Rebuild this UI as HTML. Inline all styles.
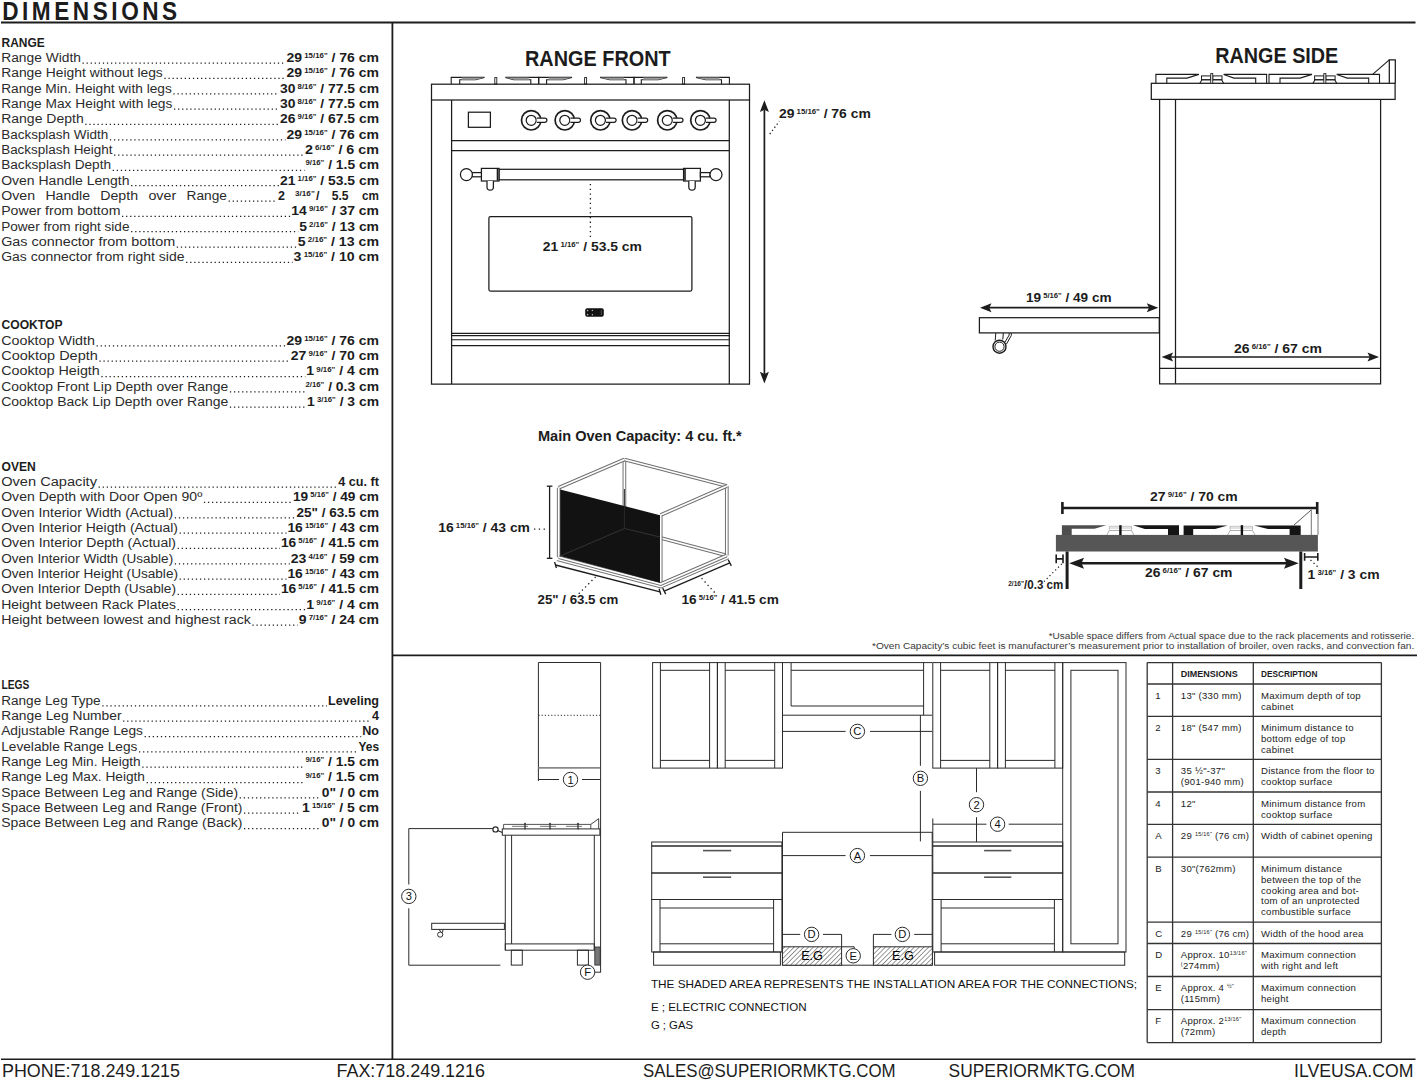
<!DOCTYPE html>
<html><head><meta charset="utf-8"><style>
html,body{margin:0;padding:0;background:#fff;}
body{width:1417px;height:1080px;overflow:hidden;}
svg{display:block;font-family:"Liberation Sans",sans-serif;}
</style></head><body>
<svg width="1417" height="1080" viewBox="0 0 1417 1080">
<rect width="1417" height="1080" fill="#fff"/>
<g fill="#1c1c1c">
<text x="1.5" y="46.7" font-size="12.5" font-weight="bold" textLength="43.2" lengthAdjust="spacingAndGlyphs">RANGE</text>
<text x="1.2" y="62.0" font-size="12.5" textLength="79.7" lengthAdjust="spacingAndGlyphs" fill="#2b2b2b">Range Width</text>
<line x1="82.5" y1="63.1" x2="285.5" y2="63.1" stroke="#1c1c1c" stroke-width="1.25" stroke-dasharray="1.25 2.82"/>
<text x="379" y="62.0" font-size="12.5" font-weight="bold" text-anchor="end" textLength="92.5" lengthAdjust="spacingAndGlyphs">29<tspan font-size="7" dy="-3.9"> 15/16"</tspan><tspan dy="3.9"> / 76 cm</tspan></text>
<text x="1.2" y="77.33" font-size="12.5" textLength="161.6" lengthAdjust="spacingAndGlyphs" fill="#2b2b2b">Range Height without legs</text>
<line x1="164.4" y1="78.4" x2="285.5" y2="78.4" stroke="#1c1c1c" stroke-width="1.25" stroke-dasharray="1.25 2.82"/>
<text x="379" y="77.33" font-size="12.5" font-weight="bold" text-anchor="end" textLength="92.5" lengthAdjust="spacingAndGlyphs">29<tspan font-size="7" dy="-3.9"> 15/16"</tspan><tspan dy="3.9"> / 76 cm</tspan></text>
<text x="1.2" y="92.66" font-size="12.5" textLength="170.6" lengthAdjust="spacingAndGlyphs" fill="#2b2b2b">Range Min. Height with legs</text>
<line x1="173.4" y1="93.8" x2="279.0" y2="93.8" stroke="#1c1c1c" stroke-width="1.25" stroke-dasharray="1.25 2.82"/>
<text x="379" y="92.66" font-size="12.5" font-weight="bold" text-anchor="end" textLength="99" lengthAdjust="spacingAndGlyphs">30<tspan font-size="7" dy="-3.9"> 8/16"</tspan><tspan dy="3.9"> / 77.5 cm</tspan></text>
<text x="1.2" y="107.99000000000001" font-size="12.5" textLength="171.2" lengthAdjust="spacingAndGlyphs" fill="#2b2b2b">Range Max Height with legs</text>
<line x1="174.0" y1="109.1" x2="279.0" y2="109.1" stroke="#1c1c1c" stroke-width="1.25" stroke-dasharray="1.25 2.82"/>
<text x="379" y="107.99000000000001" font-size="12.5" font-weight="bold" text-anchor="end" textLength="99" lengthAdjust="spacingAndGlyphs">30<tspan font-size="7" dy="-3.9"> 8/16"</tspan><tspan dy="3.9"> / 77.5 cm</tspan></text>
<text x="1.2" y="123.32" font-size="12.5" textLength="82.5" lengthAdjust="spacingAndGlyphs" fill="#2b2b2b">Range Depth</text>
<line x1="85.3" y1="124.4" x2="279.0" y2="124.4" stroke="#1c1c1c" stroke-width="1.25" stroke-dasharray="1.25 2.82"/>
<text x="379" y="123.32" font-size="12.5" font-weight="bold" text-anchor="end" textLength="99" lengthAdjust="spacingAndGlyphs">26<tspan font-size="7" dy="-3.9"> 9/16"</tspan><tspan dy="3.9"> / 67.5 cm</tspan></text>
<text x="1.2" y="138.65" font-size="12.5" textLength="107.1" lengthAdjust="spacingAndGlyphs" fill="#2b2b2b">Backsplash Width</text>
<line x1="109.9" y1="139.8" x2="285.5" y2="139.8" stroke="#1c1c1c" stroke-width="1.25" stroke-dasharray="1.25 2.82"/>
<text x="379" y="138.65" font-size="12.5" font-weight="bold" text-anchor="end" textLength="92.5" lengthAdjust="spacingAndGlyphs">29<tspan font-size="7" dy="-3.9"> 15/16"</tspan><tspan dy="3.9"> / 76 cm</tspan></text>
<text x="1.2" y="153.98000000000002" font-size="12.5" textLength="111.3" lengthAdjust="spacingAndGlyphs" fill="#2b2b2b">Backsplash Height</text>
<line x1="114.1" y1="155.1" x2="303.9" y2="155.1" stroke="#1c1c1c" stroke-width="1.25" stroke-dasharray="1.25 2.82"/>
<text x="379" y="153.98000000000002" font-size="12.5" font-weight="bold" text-anchor="end" textLength="74.1" lengthAdjust="spacingAndGlyphs">2<tspan font-size="7" dy="-3.9"> 6/16"</tspan><tspan dy="3.9"> / 6 cm</tspan></text>
<text x="1.2" y="169.31" font-size="12.5" textLength="109.9" lengthAdjust="spacingAndGlyphs" fill="#2b2b2b">Backsplash Depth</text>
<line x1="112.7" y1="170.4" x2="304.5" y2="170.4" stroke="#1c1c1c" stroke-width="1.25" stroke-dasharray="1.25 2.82"/>
<text x="379" y="169.31" font-size="12.5" font-weight="bold" text-anchor="end" textLength="73.5" lengthAdjust="spacingAndGlyphs"><tspan font-size="7" dy="-3.9">9/16"</tspan><tspan dy="3.9"> / 1.5 cm</tspan></text>
<text x="1.2" y="184.64" font-size="12.5" textLength="128.3" lengthAdjust="spacingAndGlyphs" fill="#2b2b2b">Oven Handle Length</text>
<line x1="131.1" y1="185.7" x2="279.0" y2="185.7" stroke="#1c1c1c" stroke-width="1.25" stroke-dasharray="1.25 2.82"/>
<text x="379" y="184.64" font-size="12.5" font-weight="bold" text-anchor="end" textLength="99" lengthAdjust="spacingAndGlyphs">21<tspan font-size="7" dy="-3.9"> 1/16"</tspan><tspan dy="3.9"> / 53.5 cm</tspan></text>
<text x="1.2999999999999998" y="199.97" font-size="12.5" textLength="33.8" lengthAdjust="spacingAndGlyphs" fill="#2b2b2b">Oven</text>
<text x="45.4" y="199.97" font-size="12.5" textLength="44.7" lengthAdjust="spacingAndGlyphs" fill="#2b2b2b">Handle</text>
<text x="100.2" y="199.97" font-size="12.5" textLength="37.9" lengthAdjust="spacingAndGlyphs" fill="#2b2b2b">Depth</text>
<text x="148.4" y="199.97" font-size="12.5" textLength="27.8" lengthAdjust="spacingAndGlyphs" fill="#2b2b2b">over</text>
<text x="186.6" y="199.97" font-size="12.5" textLength="40.4" lengthAdjust="spacingAndGlyphs" fill="#2b2b2b">Range</text>
<line x1="228.6" y1="201.1" x2="276.5" y2="201.1" stroke="#1c1c1c" stroke-width="1.25" stroke-dasharray="1.25 2.82"/>
<text x="278" y="199.97" font-size="12.5" font-weight="bold">2</text>
<text x="295" y="196.07" font-size="7" font-weight="bold" textLength="19.8" lengthAdjust="spacingAndGlyphs">3/16"</text>
<text x="316" y="199.97" font-size="12.5" font-weight="bold">/</text>
<text x="331.7" y="199.97" font-size="12.5" font-weight="bold" textLength="16.9" lengthAdjust="spacingAndGlyphs">5.5</text>
<text x="361.9" y="199.97" font-size="12.5" font-weight="bold" textLength="16.9" lengthAdjust="spacingAndGlyphs">cm</text>
<text x="1.2" y="215.3" font-size="12.5" textLength="119.2" lengthAdjust="spacingAndGlyphs" fill="#2b2b2b">Power from bottom</text>
<line x1="122.0" y1="216.4" x2="290.3" y2="216.4" stroke="#1c1c1c" stroke-width="1.25" stroke-dasharray="1.25 2.82"/>
<text x="379" y="215.3" font-size="12.5" font-weight="bold" text-anchor="end" textLength="87.7" lengthAdjust="spacingAndGlyphs">14<tspan font-size="7" dy="-3.9"> 9/16"</tspan><tspan dy="3.9"> / 37 cm</tspan></text>
<text x="1.2" y="230.63" font-size="12.5" textLength="128.3" lengthAdjust="spacingAndGlyphs" fill="#2b2b2b">Power from right side</text>
<line x1="131.1" y1="231.7" x2="298.2" y2="231.7" stroke="#1c1c1c" stroke-width="1.25" stroke-dasharray="1.25 2.82"/>
<text x="379" y="230.63" font-size="12.5" font-weight="bold" text-anchor="end" textLength="79.8" lengthAdjust="spacingAndGlyphs">5<tspan font-size="7" dy="-3.9"> 2/16"</tspan><tspan dy="3.9"> / 13 cm</tspan></text>
<text x="1.2" y="245.96" font-size="12.5" textLength="174.0" lengthAdjust="spacingAndGlyphs" fill="#2b2b2b">Gas connector from bottom</text>
<line x1="176.8" y1="247.1" x2="296.8" y2="247.1" stroke="#1c1c1c" stroke-width="1.25" stroke-dasharray="1.25 2.82"/>
<text x="379" y="245.96" font-size="12.5" font-weight="bold" text-anchor="end" textLength="81.2" lengthAdjust="spacingAndGlyphs">5<tspan font-size="7" dy="-3.9"> 2/16"</tspan><tspan dy="3.9"> / 13 cm</tspan></text>
<text x="1.2" y="261.28999999999996" font-size="12.5" textLength="183.3" lengthAdjust="spacingAndGlyphs" fill="#2b2b2b">Gas connector from right side</text>
<line x1="186.1" y1="262.4" x2="292.6" y2="262.4" stroke="#1c1c1c" stroke-width="1.25" stroke-dasharray="1.25 2.82"/>
<text x="379" y="261.28999999999996" font-size="12.5" font-weight="bold" text-anchor="end" textLength="85.4" lengthAdjust="spacingAndGlyphs">3<tspan font-size="7" dy="-3.9"> 15/16"</tspan><tspan dy="3.9"> / 10 cm</tspan></text>
<text x="1.5" y="329.4" font-size="12.5" font-weight="bold" textLength="61.0" lengthAdjust="spacingAndGlyphs">COOKTOP</text>
<text x="1.2" y="344.8" font-size="12.5" textLength="93.8" lengthAdjust="spacingAndGlyphs" fill="#2b2b2b">Cooktop Width</text>
<line x1="96.6" y1="345.9" x2="285.5" y2="345.9" stroke="#1c1c1c" stroke-width="1.25" stroke-dasharray="1.25 2.82"/>
<text x="379" y="344.8" font-size="12.5" font-weight="bold" text-anchor="end" textLength="92.5" lengthAdjust="spacingAndGlyphs">29<tspan font-size="7" dy="-3.9"> 15/16"</tspan><tspan dy="3.9"> / 76 cm</tspan></text>
<text x="1.2" y="360.13" font-size="12.5" textLength="96.6" lengthAdjust="spacingAndGlyphs" fill="#2b2b2b">Cooktop Depth</text>
<line x1="99.4" y1="361.2" x2="289.8" y2="361.2" stroke="#1c1c1c" stroke-width="1.25" stroke-dasharray="1.25 2.82"/>
<text x="379" y="360.13" font-size="12.5" font-weight="bold" text-anchor="end" textLength="88.2" lengthAdjust="spacingAndGlyphs">27<tspan font-size="7" dy="-3.9"> 9/16"</tspan><tspan dy="3.9"> / 70 cm</tspan></text>
<text x="1.2" y="375.46000000000004" font-size="12.5" textLength="98.6" lengthAdjust="spacingAndGlyphs" fill="#2b2b2b">Cooktop Heigth</text>
<line x1="101.4" y1="376.6" x2="305.3" y2="376.6" stroke="#1c1c1c" stroke-width="1.25" stroke-dasharray="1.25 2.82"/>
<text x="379" y="375.46000000000004" font-size="12.5" font-weight="bold" text-anchor="end" textLength="72.7" lengthAdjust="spacingAndGlyphs">1<tspan font-size="7" dy="-3.9"> 9/16"</tspan><tspan dy="3.9"> / 4 cm</tspan></text>
<text x="1.2" y="390.79" font-size="12.5" textLength="227.1" lengthAdjust="spacingAndGlyphs" fill="#2b2b2b">Cooktop Front Lip Depth over Range</text>
<line x1="229.9" y1="391.9" x2="304.5" y2="391.9" stroke="#1c1c1c" stroke-width="1.25" stroke-dasharray="1.25 2.82"/>
<text x="379" y="390.79" font-size="12.5" font-weight="bold" text-anchor="end" textLength="73.5" lengthAdjust="spacingAndGlyphs"><tspan font-size="7" dy="-3.9">2/16"</tspan><tspan dy="3.9"> / 0.3 cm</tspan></text>
<text x="1.2" y="406.12" font-size="12.5" textLength="227.1" lengthAdjust="spacingAndGlyphs" fill="#2b2b2b">Cooktop Back Lip Depth over Range</text>
<line x1="229.9" y1="407.2" x2="306.1" y2="407.2" stroke="#1c1c1c" stroke-width="1.25" stroke-dasharray="1.25 2.82"/>
<text x="379" y="406.12" font-size="12.5" font-weight="bold" text-anchor="end" textLength="71.9" lengthAdjust="spacingAndGlyphs">1<tspan font-size="7" dy="-3.9"> 3/16"</tspan><tspan dy="3.9"> / 3 cm</tspan></text>
<text x="1.5" y="470.6" font-size="12.5" font-weight="bold" textLength="34.3" lengthAdjust="spacingAndGlyphs">OVEN</text>
<text x="1.2" y="486.0" font-size="12.5" textLength="95.8" lengthAdjust="spacingAndGlyphs" fill="#2b2b2b">Oven Capacity</text>
<line x1="98.6" y1="487.1" x2="337.2" y2="487.1" stroke="#1c1c1c" stroke-width="1.25" stroke-dasharray="1.25 2.82"/>
<text x="379" y="486.0" font-size="12.5" font-weight="bold" text-anchor="end" textLength="40.8" lengthAdjust="spacingAndGlyphs">4 cu. ft</text>
<text x="1.2" y="501.33" font-size="12.5" textLength="201.1" lengthAdjust="spacingAndGlyphs" fill="#2b2b2b">Oven Depth with Door Open 90º</text>
<line x1="203.9" y1="502.4" x2="292.0" y2="502.4" stroke="#1c1c1c" stroke-width="1.25" stroke-dasharray="1.25 2.82"/>
<text x="379" y="501.33" font-size="12.5" font-weight="bold" text-anchor="end" textLength="86" lengthAdjust="spacingAndGlyphs">19<tspan font-size="7" dy="-3.9"> 5/16"</tspan><tspan dy="3.9"> / 49 cm</tspan></text>
<text x="1.2" y="516.66" font-size="12.5" textLength="172.0" lengthAdjust="spacingAndGlyphs" fill="#2b2b2b">Oven Interior Width (Actual)</text>
<line x1="174.8" y1="517.8" x2="295.4" y2="517.8" stroke="#1c1c1c" stroke-width="1.25" stroke-dasharray="1.25 2.82"/>
<text x="379" y="516.66" font-size="12.5" font-weight="bold" text-anchor="end" textLength="82.6" lengthAdjust="spacingAndGlyphs">25" / 63.5 cm</text>
<text x="1.2" y="531.99" font-size="12.5" textLength="176.8" lengthAdjust="spacingAndGlyphs" fill="#2b2b2b">Oven Interior Heigth (Actual)</text>
<line x1="179.6" y1="533.1" x2="286.4" y2="533.1" stroke="#1c1c1c" stroke-width="1.25" stroke-dasharray="1.25 2.82"/>
<text x="379" y="531.99" font-size="12.5" font-weight="bold" text-anchor="end" textLength="91.6" lengthAdjust="spacingAndGlyphs">16<tspan font-size="7" dy="-3.9"> 15/16"</tspan><tspan dy="3.9"> / 43 cm</tspan></text>
<text x="1.2" y="547.32" font-size="12.5" textLength="174.8" lengthAdjust="spacingAndGlyphs" fill="#2b2b2b">Oven Interior Depth (Actual)</text>
<line x1="177.6" y1="548.4" x2="279.9" y2="548.4" stroke="#1c1c1c" stroke-width="1.25" stroke-dasharray="1.25 2.82"/>
<text x="379" y="547.32" font-size="12.5" font-weight="bold" text-anchor="end" textLength="98.1" lengthAdjust="spacingAndGlyphs">16<tspan font-size="7" dy="-3.9"> 5/16"</tspan><tspan dy="3.9"> / 41.5 cm</tspan></text>
<text x="1.2" y="562.65" font-size="12.5" textLength="172.0" lengthAdjust="spacingAndGlyphs" fill="#2b2b2b">Oven Interior Width (Usable)</text>
<line x1="174.8" y1="563.8" x2="289.8" y2="563.8" stroke="#1c1c1c" stroke-width="1.25" stroke-dasharray="1.25 2.82"/>
<text x="379" y="562.65" font-size="12.5" font-weight="bold" text-anchor="end" textLength="88.2" lengthAdjust="spacingAndGlyphs">23<tspan font-size="7" dy="-3.9"> 4/16"</tspan><tspan dy="3.9"> / 59 cm</tspan></text>
<text x="1.2" y="577.98" font-size="12.5" textLength="176.8" lengthAdjust="spacingAndGlyphs" fill="#2b2b2b">Oven Interior Height (Usable)</text>
<line x1="179.6" y1="579.1" x2="286.4" y2="579.1" stroke="#1c1c1c" stroke-width="1.25" stroke-dasharray="1.25 2.82"/>
<text x="379" y="577.98" font-size="12.5" font-weight="bold" text-anchor="end" textLength="91.6" lengthAdjust="spacingAndGlyphs">16<tspan font-size="7" dy="-3.9"> 15/16"</tspan><tspan dy="3.9"> / 43 cm</tspan></text>
<text x="1.2" y="593.31" font-size="12.5" textLength="174.8" lengthAdjust="spacingAndGlyphs" fill="#2b2b2b">Oven Interior Depth (Usable)</text>
<line x1="177.6" y1="594.4" x2="279.9" y2="594.4" stroke="#1c1c1c" stroke-width="1.25" stroke-dasharray="1.25 2.82"/>
<text x="379" y="593.31" font-size="12.5" font-weight="bold" text-anchor="end" textLength="98.1" lengthAdjust="spacingAndGlyphs">16<tspan font-size="7" dy="-3.9"> 5/16"</tspan><tspan dy="3.9"> / 41.5 cm</tspan></text>
<text x="1.2" y="608.64" font-size="12.5" textLength="174.8" lengthAdjust="spacingAndGlyphs" fill="#2b2b2b">Height between Rack Plates</text>
<line x1="177.6" y1="609.7" x2="305.3" y2="609.7" stroke="#1c1c1c" stroke-width="1.25" stroke-dasharray="1.25 2.82"/>
<text x="379" y="608.64" font-size="12.5" font-weight="bold" text-anchor="end" textLength="72.7" lengthAdjust="spacingAndGlyphs">1<tspan font-size="7" dy="-3.9"> 9/16"</tspan><tspan dy="3.9"> / 4 cm</tspan></text>
<text x="1.2" y="623.97" font-size="12.5" textLength="249.6" lengthAdjust="spacingAndGlyphs" fill="#2b2b2b">Height between lowest and highest rack</text>
<line x1="252.4" y1="625.1" x2="297.7" y2="625.1" stroke="#1c1c1c" stroke-width="1.25" stroke-dasharray="1.25 2.82"/>
<text x="379" y="623.97" font-size="12.5" font-weight="bold" text-anchor="end" textLength="80.3" lengthAdjust="spacingAndGlyphs">9<tspan font-size="7" dy="-3.9"> 7/16"</tspan><tspan dy="3.9"> / 24 cm</tspan></text>
<text x="1.5" y="689.2" font-size="12.5" font-weight="bold" textLength="27.8" lengthAdjust="spacingAndGlyphs">LEGS</text>
<text x="1.2" y="704.8" font-size="12.5" textLength="99.5" lengthAdjust="spacingAndGlyphs" fill="#2b2b2b">Range Leg Type</text>
<line x1="102.3" y1="705.9" x2="327.0" y2="705.9" stroke="#1c1c1c" stroke-width="1.25" stroke-dasharray="1.25 2.82"/>
<text x="379" y="704.8" font-size="12.5" font-weight="bold" text-anchor="end" textLength="51" lengthAdjust="spacingAndGlyphs">Leveling</text>
<text x="1.2" y="720.13" font-size="12.5" textLength="120.3" lengthAdjust="spacingAndGlyphs" fill="#2b2b2b">Range Leg Number</text>
<line x1="123.1" y1="721.2" x2="371.0" y2="721.2" stroke="#1c1c1c" stroke-width="1.25" stroke-dasharray="1.25 2.82"/>
<text x="379" y="720.13" font-size="12.5" font-weight="bold" text-anchor="end" textLength="7" lengthAdjust="spacingAndGlyphs">4</text>
<text x="1.2" y="735.4599999999999" font-size="12.5" textLength="141.8" lengthAdjust="spacingAndGlyphs" fill="#2b2b2b">Adjustable Range Legs</text>
<line x1="144.6" y1="736.6" x2="361.2" y2="736.6" stroke="#1c1c1c" stroke-width="1.25" stroke-dasharray="1.25 2.82"/>
<text x="379" y="735.4599999999999" font-size="12.5" font-weight="bold" text-anchor="end" textLength="16.8" lengthAdjust="spacingAndGlyphs">No</text>
<text x="1.2" y="750.79" font-size="12.5" textLength="136.2" lengthAdjust="spacingAndGlyphs" fill="#2b2b2b">Levelable Range Legs</text>
<line x1="139.0" y1="751.9" x2="357.5" y2="751.9" stroke="#1c1c1c" stroke-width="1.25" stroke-dasharray="1.25 2.82"/>
<text x="379" y="750.79" font-size="12.5" font-weight="bold" text-anchor="end" textLength="20.5" lengthAdjust="spacingAndGlyphs">Yes</text>
<text x="1.2" y="766.12" font-size="12.5" textLength="139.5" lengthAdjust="spacingAndGlyphs" fill="#2b2b2b">Range Leg Min. Heigth</text>
<line x1="142.3" y1="767.2" x2="304.4" y2="767.2" stroke="#1c1c1c" stroke-width="1.25" stroke-dasharray="1.25 2.82"/>
<text x="379" y="766.12" font-size="12.5" font-weight="bold" text-anchor="end" textLength="73.6" lengthAdjust="spacingAndGlyphs"><tspan font-size="7" dy="-3.9">9/16"</tspan><tspan dy="3.9"> / 1.5 cm</tspan></text>
<text x="1.2" y="781.4499999999999" font-size="12.5" textLength="143.8" lengthAdjust="spacingAndGlyphs" fill="#2b2b2b">Range Leg Max. Heigth</text>
<line x1="146.6" y1="782.5" x2="304.4" y2="782.5" stroke="#1c1c1c" stroke-width="1.25" stroke-dasharray="1.25 2.82"/>
<text x="379" y="781.4499999999999" font-size="12.5" font-weight="bold" text-anchor="end" textLength="73.6" lengthAdjust="spacingAndGlyphs"><tspan font-size="7" dy="-3.9">9/16"</tspan><tspan dy="3.9"> / 1.5 cm</tspan></text>
<text x="1.2" y="796.78" font-size="12.5" textLength="236.9" lengthAdjust="spacingAndGlyphs" fill="#2b2b2b">Space Between Leg and Range (Side)</text>
<line x1="239.7" y1="797.9" x2="320.8" y2="797.9" stroke="#1c1c1c" stroke-width="1.25" stroke-dasharray="1.25 2.82"/>
<text x="379" y="796.78" font-size="12.5" font-weight="bold" text-anchor="end" textLength="57.2" lengthAdjust="spacingAndGlyphs">0" / 0 cm</text>
<text x="1.2" y="812.1099999999999" font-size="12.5" textLength="241.2" lengthAdjust="spacingAndGlyphs" fill="#2b2b2b">Space Between Leg and Range (Front)</text>
<line x1="244.0" y1="813.2" x2="301.0" y2="813.2" stroke="#1c1c1c" stroke-width="1.25" stroke-dasharray="1.25 2.82"/>
<text x="379" y="812.1099999999999" font-size="12.5" font-weight="bold" text-anchor="end" textLength="77" lengthAdjust="spacingAndGlyphs">1<tspan font-size="7" dy="-3.9"> 15/16"</tspan><tspan dy="3.9"> / 5 cm</tspan></text>
<text x="1.2" y="827.4399999999999" font-size="12.5" textLength="241.2" lengthAdjust="spacingAndGlyphs" fill="#2b2b2b">Space Between Leg and Range (Back)</text>
<line x1="244.0" y1="828.5" x2="320.8" y2="828.5" stroke="#1c1c1c" stroke-width="1.25" stroke-dasharray="1.25 2.82"/>
<text x="379" y="827.4399999999999" font-size="12.5" font-weight="bold" text-anchor="end" textLength="57.2" lengthAdjust="spacingAndGlyphs">0" / 0 cm</text>
<text transform="scale(0.86,1)" x="2.56" y="20.3" font-size="26.3" font-weight="bold" textLength="203.5" lengthAdjust="spacing">DIMENSIONS</text>
<line x1="1" y1="22.6" x2="1415.5" y2="22.6" stroke="#1c1c1c" stroke-width="2"/>
<line x1="392.4" y1="22.6" x2="392.4" y2="1059.4" stroke="#1c1c1c" stroke-width="1.8"/>
<line x1="392.4" y1="655.4" x2="1417" y2="655.4" stroke="#1c1c1c" stroke-width="1.8"/>
<line x1="1" y1="1059.3" x2="1415.5" y2="1059.3" stroke="#1c1c1c" stroke-width="1.6"/>
<text x="2" y="1076.7" font-size="18.4" textLength="178" lengthAdjust="spacingAndGlyphs">PHONE:718.249.1215</text>
<text x="336.5" y="1076.7" font-size="18.4" textLength="148.5" lengthAdjust="spacingAndGlyphs">FAX:718.249.1216</text>
<text x="643" y="1076.7" font-size="18.4" textLength="252.6" lengthAdjust="spacingAndGlyphs">SALES@SUPERIORMKTG.COM</text>
<text x="948.6" y="1076.7" font-size="18.4" textLength="186.4" lengthAdjust="spacingAndGlyphs">SUPERIORMKTG.COM</text>
<text x="1294" y="1076.7" font-size="18.4" textLength="119.5" lengthAdjust="spacingAndGlyphs">ILVEUSA.COM</text>
<text x="525" y="65.7" font-size="22.8" font-weight="bold" textLength="145.7" lengthAdjust="spacingAndGlyphs">RANGE FRONT</text>
<rect x="431.5" y="84.2" width="318" height="15.8" stroke="#1c1c1c" stroke-width="1.25" fill="none"/>
<path d="M431.5,100 V384 H749.5 V100" stroke="#1c1c1c" stroke-width="1.25" fill="none"/>
<line x1="451.6" y1="100" x2="451.6" y2="384" stroke="#1c1c1c" stroke-width="1.25"/>
<line x1="729.3" y1="100" x2="729.3" y2="384" stroke="#1c1c1c" stroke-width="1.25"/>
<line x1="451.6" y1="140.5" x2="729.3" y2="140.5" stroke="#1c1c1c" stroke-width="1.25"/>
<line x1="451.6" y1="150.6" x2="729.3" y2="150.6" stroke="#1c1c1c" stroke-width="1.25"/>
<rect x="468.4" y="112.2" width="22" height="15.1" stroke="#1c1c1c" stroke-width="1.25" fill="none"/>
<circle cx="531.2" cy="120.3" r="9.7" stroke="#1c1c1c" stroke-width="1.7" fill="none"/>
<circle cx="531.2" cy="120.3" r="5" stroke="#1c1c1c" stroke-width="1.25" fill="none"/>
<path d="M536.8000000000001,118.2 H544.8000000000001 a2.1,2.1 0 0 1 0,4.2 H536.8000000000001" stroke="#1c1c1c" stroke-width="1.25" fill="#fff"/>
<circle cx="564.8" cy="120.3" r="9.7" stroke="#1c1c1c" stroke-width="1.7" fill="none"/>
<circle cx="564.8" cy="120.3" r="5" stroke="#1c1c1c" stroke-width="1.25" fill="none"/>
<path d="M570.4,118.2 H578.4 a2.1,2.1 0 0 1 0,4.2 H570.4" stroke="#1c1c1c" stroke-width="1.25" fill="#fff"/>
<circle cx="600.4" cy="120.3" r="9.7" stroke="#1c1c1c" stroke-width="1.7" fill="none"/>
<circle cx="600.4" cy="120.3" r="5" stroke="#1c1c1c" stroke-width="1.25" fill="none"/>
<path d="M606.0,118.2 H614.0 a2.1,2.1 0 0 1 0,4.2 H606.0" stroke="#1c1c1c" stroke-width="1.25" fill="#fff"/>
<circle cx="632" cy="120.3" r="9.7" stroke="#1c1c1c" stroke-width="1.7" fill="none"/>
<circle cx="632" cy="120.3" r="5" stroke="#1c1c1c" stroke-width="1.25" fill="none"/>
<path d="M637.6,118.2 H645.6 a2.1,2.1 0 0 1 0,4.2 H637.6" stroke="#1c1c1c" stroke-width="1.25" fill="#fff"/>
<circle cx="667.3" cy="120.3" r="9.7" stroke="#1c1c1c" stroke-width="1.7" fill="none"/>
<circle cx="667.3" cy="120.3" r="5" stroke="#1c1c1c" stroke-width="1.25" fill="none"/>
<path d="M672.9,118.2 H680.9 a2.1,2.1 0 0 1 0,4.2 H672.9" stroke="#1c1c1c" stroke-width="1.25" fill="#fff"/>
<circle cx="700.4" cy="120.3" r="9.7" stroke="#1c1c1c" stroke-width="1.7" fill="none"/>
<circle cx="700.4" cy="120.3" r="5" stroke="#1c1c1c" stroke-width="1.25" fill="none"/>
<path d="M706.0,118.2 H714.0 a2.1,2.1 0 0 1 0,4.2 H706.0" stroke="#1c1c1c" stroke-width="1.25" fill="#fff"/>
<rect x="499" y="169.3" width="184.6" height="10.5" stroke="#1c1c1c" stroke-width="1.25" fill="#fff"/>
<rect x="481.4" y="168.4" width="17.600000000000023" height="12.6" stroke="#1c1c1c" stroke-width="1.25" fill="#fff"/>
<path d="M487.0,181 V187 a3.2,3.2 0 0 0 6.4,0 V181" stroke="#1c1c1c" stroke-width="1.25" fill="#fff"/>
<rect x="472" y="172.6" width="9.399999999999977" height="4.2" stroke="#1c1c1c" stroke-width="1.25" fill="#fff"/>
<circle cx="466.4" cy="174.6" r="6" stroke="#1c1c1c" stroke-width="1.25" fill="#fff"/>
<line x1="497.5" y1="168.8" x2="497.5" y2="180.6" stroke="#1c1c1c" stroke-width="1.6"/>
<rect x="683.6" y="168.4" width="16.799999999999955" height="12.6" stroke="#1c1c1c" stroke-width="1.25" fill="#fff"/>
<path d="M688.8,181 V187 a3.2,3.2 0 0 0 6.4,0 V181" stroke="#1c1c1c" stroke-width="1.25" fill="#fff"/>
<rect x="700.4" y="172.6" width="9.600000000000023" height="4.2" stroke="#1c1c1c" stroke-width="1.25" fill="#fff"/>
<circle cx="716" cy="174.6" r="6" stroke="#1c1c1c" stroke-width="1.25" fill="#fff"/>
<line x1="685" y1="168.8" x2="685" y2="180.6" stroke="#1c1c1c" stroke-width="1.6"/>
<line x1="590.4" y1="184" x2="590.4" y2="237" stroke="#1c1c1c" stroke-width="1.3" stroke-dasharray="1.3 3.4"/>
<rect x="488.9" y="216.7" width="203" height="74.4" stroke="#1c1c1c" stroke-width="1.25" fill="none" rx="1.5"/>
<text x="542.8" y="250.8" font-size="12.5" font-weight="bold" textLength="99.2" lengthAdjust="spacingAndGlyphs">21<tspan font-size="7" dy="-3.9"> 1/16"</tspan><tspan dy="3.9"> / 53.5 cm</tspan></text>
<rect x="585.2" y="308.2" width="18.6" height="8.5" rx="2" fill="#111"/>
<g fill="#bbb"><circle cx="587.6" cy="310.6" r="0.8"/><circle cx="587.6" cy="314.6" r="0.8"/><circle cx="592.4" cy="310.4" r="0.7"/><circle cx="592.4" cy="314.8" r="0.7"/></g>
<rect x="600.8" y="310" width="1" height="5" fill="#555"/>
<line x1="451.6" y1="333.4" x2="729.3" y2="333.4" stroke="#1c1c1c" stroke-width="1.1"/>
<line x1="451.6" y1="335.6" x2="729.3" y2="335.6" stroke="#1c1c1c" stroke-width="1.1"/>
<line x1="451.6" y1="339.8" x2="729.3" y2="339.8" stroke="#1c1c1c" stroke-width="1.1"/>
<line x1="451.6" y1="345.6" x2="729.3" y2="345.6" stroke="#1c1c1c" stroke-width="1.1"/>
<path d="M451.2,84 V77.4 H484.5 L475.5,79.7 H459.7 V84" stroke="#1c1c1c" stroke-width="1.1" fill="none"/>
<path d="M475.5,79.7 L484.5,77.4 H461.7 L461.7,79.7 Z" fill="#9a9a9a"/>
<path d="M538.7,84 V77.4 H505.4 L513.9,79.7 H530.8 V84" stroke="#1c1c1c" stroke-width="1.1" fill="none"/>
<path d="M513.9,79.7 L505.4,77.4 H528.8 L528.8,79.7 Z" fill="#9a9a9a"/>
<path d="M538.7,84 V77.4 H572 L563,79.7 H546.6 V84" stroke="#1c1c1c" stroke-width="1.1" fill="none"/>
<path d="M563,79.7 L572,77.4 H548.6 L548.6,79.7 Z" fill="#9a9a9a"/>
<path d="M634,84 V77.4 H600.1 L609.7,79.7 H626 V84" stroke="#1c1c1c" stroke-width="1.1" fill="none"/>
<path d="M609.7,79.7 L600.1,77.4 H624 L624,79.7 Z" fill="#9a9a9a"/>
<path d="M634,84 V77.4 H667.3 L658.2,79.7 H641.3 V84" stroke="#1c1c1c" stroke-width="1.1" fill="none"/>
<path d="M658.2,79.7 L667.3,77.4 H643.3 L643.3,79.7 Z" fill="#9a9a9a"/>
<path d="M729.4,84 V77.4 H696 L705.7,79.7 H721.5 V84" stroke="#1c1c1c" stroke-width="1.1" fill="none"/>
<path d="M705.7,79.7 L696,77.4 H719.5 L719.5,79.7 Z" fill="#9a9a9a"/>
<rect x="494.8" y="77.6" width="2" height="6.4" stroke="#1c1c1c" stroke-width="0.9" fill="none"/>
<rect x="584.6" y="77.6" width="2" height="6.4" stroke="#1c1c1c" stroke-width="0.9" fill="none"/>
<rect x="682.6" y="77.6" width="2" height="6.4" stroke="#1c1c1c" stroke-width="0.9" fill="none"/>
<line x1="764.4" y1="110" x2="764.4" y2="374" stroke="#1c1c1c" stroke-width="1.7"/>
<path d="M764.4,100.2 L759.9,112 L764.4,109.8 L768.9,112 Z" fill="#1c1c1c"/>
<path d="M764.4,383.6 L759.9,371.8 L764.4,374 L768.9,371.8 Z" fill="#1c1c1c"/>
<text x="778.9" y="117.7" font-size="12.5" font-weight="bold" textLength="92" lengthAdjust="spacingAndGlyphs">29<tspan font-size="7" dy="-3.9"> 15/16"</tspan><tspan dy="3.9"> / 76 cm</tspan></text>
<line x1="769.8" y1="134" x2="779.4" y2="121.1" stroke="#1c1c1c" stroke-width="1.3" stroke-dasharray="1.3 2.6"/>
<text x="1215.3" y="62.9" font-size="22.7" font-weight="bold" textLength="123" lengthAdjust="spacingAndGlyphs">RANGE SIDE</text>
<rect x="1151.3" y="83.3" width="243.8" height="16.1" stroke="#1c1c1c" stroke-width="1.25" fill="none"/>
<path d="M1159.6,99.4 V383.8 H1380.6 V99.4" stroke="#1c1c1c" stroke-width="1.25" fill="none"/>
<line x1="1175.5" y1="99.4" x2="1175.5" y2="383.8" stroke="#1c1c1c" stroke-width="1.25"/>
<line x1="1159.6" y1="368.4" x2="1380.6" y2="368.4" stroke="#1c1c1c" stroke-width="1.25"/>
<path d="M1389.3,83.3 V59.8 H1395.3 V83.3" stroke="#1c1c1c" stroke-width="1.25" fill="none"/>
<path d="M1389.3,59.8 L1372.6,74.4" stroke="#1c1c1c" stroke-width="1.1" fill="none"/>
<path d="M1155.9,83.3 V74.4 H1198.9 L1187,78.1 H1166.8 V83.3" stroke="#1c1c1c" stroke-width="1.1" fill="none"/>
<path d="M1199.9,83.3 L1201.9,79.8 H1221.6 L1223.6,83.3" stroke="#1c1c1c" stroke-width="1.1" fill="none"/>
<rect x="1201.5" y="75.9" width="9.24999999999991" height="3.9" stroke="#1c1c1c" stroke-width="1.0" fill="none"/>
<rect x="1212.75" y="75.9" width="9.24999999999991" height="3.9" stroke="#1c1c1c" stroke-width="1.0" fill="none"/>
<rect x="1210.75" y="73.6" width="2" height="9.7" stroke="#1c1c1c" stroke-width="0.9" fill="#fff"/>
<path d="M1266.6,83.3 V74.4 H1223.6 L1234,78.1 H1255.7 V83.3" stroke="#1c1c1c" stroke-width="1.1" fill="none"/>
<path d="M1269,83.3 V74.4 H1312 L1300,78.1 H1280 V83.3" stroke="#1c1c1c" stroke-width="1.1" fill="none"/>
<path d="M1313,83.3 L1315,79.8 H1334.7 L1336.7,83.3" stroke="#1c1c1c" stroke-width="1.1" fill="none"/>
<rect x="1314.6" y="75.9" width="9.24999999999991" height="3.9" stroke="#1c1c1c" stroke-width="1.0" fill="none"/>
<rect x="1325.85" y="75.9" width="9.250000000000137" height="3.9" stroke="#1c1c1c" stroke-width="1.0" fill="none"/>
<rect x="1323.85" y="73.6" width="2" height="9.7" stroke="#1c1c1c" stroke-width="0.9" fill="#fff"/>
<path d="M1379.5,83.3 V74.4 H1336.7 L1347.2,78.1 H1368.7 V83.3" stroke="#1c1c1c" stroke-width="1.1" fill="none"/>
<rect x="979.4" y="317.7" width="179.9" height="15.2" stroke="#1c1c1c" stroke-width="1.25" fill="none"/>
<path d="M995.8,333 L995.2,340.5 M1003.3,333 L1002.8,339.5 M1011.3,333 L1011.3,335.5 L1006.5,344 M1009.2,333 L1009.2,335 L1004.8,342.5" stroke="#1c1c1c" stroke-width="1.0" fill="none"/>
<circle cx="999.5" cy="346.7" r="6.5" stroke="#1c1c1c" stroke-width="1.4" fill="#fff"/>
<circle cx="999.5" cy="346.7" r="4.6" stroke="#1c1c1c" stroke-width="1.0" fill="none"/>
<line x1="988.5" y1="307.7" x2="1149.8" y2="307.7" stroke="#1c1c1c" stroke-width="1.7"/>
<path d="M980,307.7 L991.5,303.2 L989.3,307.7 L991.5,312.2 Z" fill="#1c1c1c"/>
<path d="M1158.3,307.7 L1146.8,303.2 L1149.0,307.7 L1146.8,312.2 Z" fill="#1c1c1c"/>
<text x="1026" y="302.3" font-size="12.5" font-weight="bold" textLength="85.6" lengthAdjust="spacingAndGlyphs">19<tspan font-size="7" dy="-3.9"> 5/16"</tspan><tspan dy="3.9"> / 49 cm</tspan></text>
<line x1="1170.1" y1="357" x2="1370.5" y2="357" stroke="#1c1c1c" stroke-width="1.7"/>
<path d="M1161.6,357 L1173.1,352.5 L1170.8999999999999,357 L1173.1,361.5 Z" fill="#1c1c1c"/>
<path d="M1379,357 L1367.5,352.5 L1369.7,357 L1367.5,361.5 Z" fill="#1c1c1c"/>
<text x="1234" y="353.2" font-size="12.5" font-weight="bold" textLength="88" lengthAdjust="spacingAndGlyphs">26<tspan font-size="7" dy="-3.9"> 6/16"</tspan><tspan dy="3.9"> / 67 cm</tspan></text>
<text x="538" y="441.2" font-size="14.6" font-weight="bold" textLength="203.8" lengthAdjust="spacingAndGlyphs">Main Oven Capacity: 4 cu. ft.*</text>
<path d="M624.4,459.5 V528.3 L726.8,555.5" stroke="#707070" stroke-width="3.7" fill="none" stroke-linejoin="miter"/>
<path d="M624.4,459.5 V528.3 L726.8,555.5" stroke="#fff" stroke-width="1.7" fill="none" stroke-linejoin="miter"/>
<path d="M624.4,459.5 L558.7,487.8" stroke="#707070" stroke-width="3.7" fill="none" stroke-linejoin="miter"/>
<path d="M624.4,459.5 L558.7,487.8" stroke="#fff" stroke-width="1.7" fill="none" stroke-linejoin="miter"/>
<path d="M624.4,459.5 L726.8,486" stroke="#707070" stroke-width="3.7" fill="none" stroke-linejoin="miter"/>
<path d="M624.4,459.5 L726.8,486" stroke="#fff" stroke-width="1.7" fill="none" stroke-linejoin="miter"/>
<path d="M726.8,486 V555.5" stroke="#707070" stroke-width="3.7" fill="none" stroke-linejoin="miter"/>
<path d="M726.8,486 V555.5" stroke="#fff" stroke-width="1.7" fill="none" stroke-linejoin="miter"/>
<path d="M558.7,487.8 V557.3" stroke="#707070" stroke-width="3.7" fill="none" stroke-linejoin="miter"/>
<path d="M558.7,487.8 V557.3" stroke="#fff" stroke-width="1.7" fill="none" stroke-linejoin="miter"/>
<path d="M660.7,515 L726.8,486" stroke="#707070" stroke-width="3.7" fill="none" stroke-linejoin="miter"/>
<path d="M660.7,515 L726.8,486" stroke="#fff" stroke-width="1.7" fill="none" stroke-linejoin="miter"/>
<path d="M660.7,515 V584" stroke="#707070" stroke-width="3.7" fill="none" stroke-linejoin="miter"/>
<path d="M660.7,515 V584" stroke="#fff" stroke-width="1.7" fill="none" stroke-linejoin="miter"/>
<path d="M558.7,557.3 L660.7,584 L726.8,555.5" stroke="#707070" stroke-width="3.7" fill="none" stroke-linejoin="miter"/>
<path d="M558.7,557.3 L660.7,584 L726.8,555.5" stroke="#fff" stroke-width="1.7" fill="none" stroke-linejoin="miter"/>
<path d="M556.8,560.6 L661,588 L729,558.7" stroke="#707070" stroke-width="1" fill="none"/>
<path d="M560.2,489.5 L660,515.2 L660,582.7 L560.2,556.1 Z" fill="#121212"/>
<path d="M560.2,556 L624.4,528.5 L660,537" stroke="#333" stroke-width="1" fill="none"/>
<path d="M624.4,489 V528" stroke="#2a2a2a" stroke-width="1" fill="none"/>
<line x1="549.6" y1="486.2" x2="549.6" y2="558.3" stroke="#1c1c1c" stroke-width="1.3"/>
<line x1="546.8" y1="486.2" x2="552.4" y2="486.2" stroke="#1c1c1c" stroke-width="1.3"/>
<line x1="546.8" y1="558.3" x2="552.4" y2="558.3" stroke="#1c1c1c" stroke-width="1.3"/>
<text x="438.2" y="532" font-size="12.5" font-weight="bold" textLength="91.8" lengthAdjust="spacingAndGlyphs">16<tspan font-size="7" dy="-3.9"> 15/16"</tspan><tspan dy="3.9"> / 43 cm</tspan></text>
<line x1="534" y1="529.2" x2="547" y2="529.2" stroke="#1c1c1c" stroke-width="1.3" stroke-dasharray="1.3 3.5"/>
<line x1="555.5" y1="565" x2="660" y2="591.8" stroke="#1c1c1c" stroke-width="1.3"/>
<path d="M554.6,562 L556.4,568 M659.1,588.8 L660.9,594.8" stroke="#1c1c1c" stroke-width="1.3" fill="none"/>
<text x="537.5" y="603.7" font-size="12.5" font-weight="bold" textLength="80.9" lengthAdjust="spacingAndGlyphs">25" / 63.5 cm</text>
<line x1="595.6" y1="576.9" x2="578.2" y2="594.3" stroke="#1c1c1c" stroke-width="1.3" stroke-dasharray="1.3 3.2"/>
<line x1="664.2" y1="591.1" x2="729.8" y2="562.9" stroke="#1c1c1c" stroke-width="1.3"/>
<path d="M662.7,588.1 L665.7,594.1 M728.3,559.9 L731.3,565.9" stroke="#1c1c1c" stroke-width="1.3" fill="none"/>
<text x="681.5" y="603.7" font-size="12.5" font-weight="bold" textLength="97.3" lengthAdjust="spacingAndGlyphs">16<tspan font-size="7" dy="-3.9"> 5/16"</tspan><tspan dy="3.9"> / 41.5 cm</tspan></text>
<line x1="701.6" y1="578.2" x2="715" y2="593" stroke="#1c1c1c" stroke-width="1.3" stroke-dasharray="1.3 3.2"/>
<line x1="1062.4" y1="508" x2="1317.2" y2="508" stroke="#1c1c1c" stroke-width="2.6"/>
<line x1="1062.4" y1="502" x2="1062.4" y2="514" stroke="#1c1c1c" stroke-width="2.6"/>
<line x1="1317.2" y1="502" x2="1317.2" y2="514" stroke="#1c1c1c" stroke-width="2.6"/>
<text x="1150" y="501.2" font-size="12.5" font-weight="bold" textLength="87.8" lengthAdjust="spacingAndGlyphs">27<tspan font-size="7" dy="-3.9"> 9/16"</tspan><tspan dy="3.9"> / 70 cm</tspan></text>
<rect x="1055.9" y="534.9" width="262" height="16.6" fill="#565656"/>
<path d="M1061.9,535 V525.2 H1106.3 L1094.5,528.8 H1071.7 V535 Z" fill="#4e4e4e"/>
<path d="M1106.8,535 L1109.3,530.5 H1131.5 L1134,535" stroke="#999" stroke-width="0.8" fill="none"/>
<path d="M1109.3,530.5 V526.3 H1131.5 V530.5 M1109.3,528 H1131.5" stroke="#aaa" stroke-width="0.7" fill="none"/>
<rect x="1119.2" y="525.2" width="2.4" height="9.8" fill="#111"/>
<path d="M1133,525.2 H1179 V535 H1168 V528.9 H1144.9 Z" fill="#151515"/>
<path d="M1183.6,535 V525.4 H1227.6 L1215,528.9 H1193.2 V535 Z" fill="#151515"/>
<path d="M1227.6,535 L1230.1,530.5 H1252.5 L1255,535" stroke="#999" stroke-width="0.8" fill="none"/>
<path d="M1230.1,530.5 V526.3 H1252.5 V530.5 M1230.1,528 H1252.5" stroke="#aaa" stroke-width="0.7" fill="none"/>
<rect x="1240.7" y="525.2" width="2.4" height="9.8" fill="#111"/>
<path d="M1254,525.4 H1300.7 V535 H1289.6 V529 H1267.9 Z" fill="#151515"/>
<line x1="1293.8" y1="525.2" x2="1311.3" y2="509.8" stroke="#444" stroke-width="0.9"/>
<line x1="1311.3" y1="509.8" x2="1311.3" y2="535" stroke="#666" stroke-width="0.9"/>
<line x1="1318" y1="513" x2="1318" y2="535" stroke="#666" stroke-width="0.9"/>
<line x1="1067.1" y1="551.5" x2="1067.1" y2="589" stroke="#1c1c1c" stroke-width="3"/>
<line x1="1300.8" y1="551.5" x2="1300.8" y2="589" stroke="#1c1c1c" stroke-width="3"/>
<line x1="1078" y1="563.3" x2="1290" y2="563.3" stroke="#1c1c1c" stroke-width="2.6"/>
<path d="M1069.2,563.3 L1084,557.8 L1081.5,563.3 L1084,568.8 Z" fill="#1c1c1c"/>
<path d="M1298.7,563.3 L1284,557.8 L1286.5,563.3 L1284,568.8 Z" fill="#1c1c1c"/>
<text x="1145" y="577.1" font-size="12.5" font-weight="bold" textLength="87.5" lengthAdjust="spacingAndGlyphs">26<tspan font-size="7" dy="-3.9"> 6/16"</tspan><tspan dy="3.9"> / 67 cm</tspan></text>
<path d="M1056.2,554.5 V563.3 M1056.2,558.9 H1063 M1063,554.5 V563.3" stroke="#1c1c1c" stroke-width="1.6" fill="none"/>
<text x="1008.2" y="589.2" font-size="12" font-weight="bold" textLength="55.1" lengthAdjust="spacingAndGlyphs"><tspan font-size="6.8" dy="-3.6">2/16"</tspan><tspan dy="3.6">/0.3 cm</tspan></text>
<line x1="1061.8" y1="563.9" x2="1044" y2="581.5" stroke="#1c1c1c" stroke-width="1.2" stroke-dasharray="1.2 2.8"/>
<path d="M1304.6,553.1 V560.7 M1304.6,557 H1317.8 M1317.8,553.1 V560.7" stroke="#1c1c1c" stroke-width="1.6" fill="none"/>
<text x="1307.5" y="578.6" font-size="12.5" font-weight="bold" textLength="72.1" lengthAdjust="spacingAndGlyphs">1<tspan font-size="7" dy="-3.9"> 3/16"</tspan><tspan dy="3.9"> / 3 cm</tspan></text>
<line x1="1310.5" y1="560" x2="1319" y2="568" stroke="#1c1c1c" stroke-width="1.3" stroke-dasharray="1.3 2.9"/>
<text x="1414.2" y="639.2" font-size="8.9" text-anchor="end" textLength="365.5" lengthAdjust="spacingAndGlyphs" fill="#383838">*Usable space differs from Actual space due to the rack placements and rotisserie.</text>
<text x="1414.2" y="649.4" font-size="8.9" text-anchor="end" textLength="542.2" lengthAdjust="spacingAndGlyphs" fill="#383838">*Oven Capacity’s cubic feet is manufacturer’s measurement prior to installation of broiler, oven racks, and convection fan.</text>
<line x1="538.4" y1="662.5" x2="600.6" y2="662.5" stroke="#2a2a2a" stroke-width="1.0"/>
<line x1="538.4" y1="662.5" x2="538.4" y2="781" stroke="#2a2a2a" stroke-width="1.0"/>
<line x1="538.4" y1="715.3" x2="600.6" y2="715.3" stroke="#2a2a2a" stroke-width="1" stroke-dasharray="1.2 2"/>
<line x1="538.4" y1="767.8" x2="600.6" y2="767.8" stroke="#888" stroke-width="1.8"/>
<line x1="538.4" y1="779.5" x2="559" y2="779.5" stroke="#2a2a2a" stroke-width="1.0"/>
<line x1="582" y1="779.5" x2="600.6" y2="779.5" stroke="#2a2a2a" stroke-width="1.0"/>
<circle cx="570.5" cy="779.5" r="7.2" stroke="#2a2a2a" stroke-width="1" fill="#fff"/>
<text x="570.5" y="783.5" font-size="11.2" text-anchor="middle" fill="#111">1</text>
<line x1="600.6" y1="662.5" x2="600.6" y2="972.5" stroke="#2a2a2a" stroke-width="1.0"/>
<rect x="502.3" y="828.9" width="97.6" height="6.3" stroke="#2a2a2a" stroke-width="1.0" fill="none"/>
<path d="M503.6,828.9 V824.4 H590.8 V828.9" stroke="#2a2a2a" stroke-width="0.8" fill="none"/>
<path d="M512,826.3 H528" stroke="#777" stroke-width="1.0" fill="none"/>
<path d="M540,826.3 H556" stroke="#777" stroke-width="1.0" fill="none"/>
<path d="M566,826.3 H582" stroke="#777" stroke-width="1.0" fill="none"/>
<rect x="524.3" y="823.2" width="1.4" height="5.7" stroke="#2a2a2a" stroke-width="0.6" fill="none"/>
<rect x="549.3" y="823.2" width="1.4" height="5.7" stroke="#2a2a2a" stroke-width="0.6" fill="none"/>
<rect x="577.3" y="823.2" width="1.4" height="5.7" stroke="#2a2a2a" stroke-width="0.6" fill="none"/>
<path d="M590.8,824.4 L598.7,818.7 V828.9" stroke="#2a2a2a" stroke-width="0.9" fill="none"/>
<circle cx="495.5" cy="829.4" r="2.6" stroke="#2a2a2a" stroke-width="1.2" fill="#fff"/>
<line x1="497.6" y1="830.5" x2="502.3" y2="832.5" stroke="#2a2a2a" stroke-width="1.2"/>
<line x1="505.3" y1="835.2" x2="505.3" y2="950.2" stroke="#2a2a2a" stroke-width="1.0"/>
<line x1="511.6" y1="835.2" x2="511.6" y2="943.9" stroke="#2a2a2a" stroke-width="1.0"/>
<line x1="594.3" y1="835.2" x2="594.3" y2="950.2" stroke="#2a2a2a" stroke-width="1.0"/>
<rect x="505.3" y="943.9" width="89" height="6.3" stroke="#2a2a2a" stroke-width="1.0" fill="none"/>
<rect x="511.3" y="950.2" width="11" height="14.9" stroke="#2a2a2a" stroke-width="1.0" fill="none"/>
<rect x="577.4" y="950.2" width="11" height="14.9" stroke="#2a2a2a" stroke-width="1.0" fill="none"/>
<rect x="431.7" y="923.3" width="72.7" height="6.1" stroke="#2a2a2a" stroke-width="1.0" fill="none"/>
<circle cx="440.2" cy="934.6" r="2.6" stroke="#2a2a2a" stroke-width="1" fill="#fff"/>
<line x1="439" y1="929.4" x2="441" y2="932" stroke="#2a2a2a" stroke-width="1.0"/>
<line x1="443" y1="929.4" x2="442.5" y2="932.5" stroke="#2a2a2a" stroke-width="1.0"/>
<line x1="408.8" y1="828.6" x2="492.8" y2="828.6" stroke="#2a2a2a" stroke-width="1.0"/>
<line x1="408.8" y1="965.2" x2="500.4" y2="965.2" stroke="#2a2a2a" stroke-width="1.0"/>
<line x1="408.8" y1="828.6" x2="408.8" y2="884.5" stroke="#2a2a2a" stroke-width="1.0"/>
<line x1="408.8" y1="908.3" x2="408.8" y2="965.2" stroke="#2a2a2a" stroke-width="1.0"/>
<circle cx="408.8" cy="896.4" r="7.2" stroke="#2a2a2a" stroke-width="1" fill="#fff"/>
<text x="408.8" y="900.4" font-size="11.2" text-anchor="middle" fill="#111">3</text>
<rect x="594.8" y="947" width="5.4" height="18.1" fill="#777" stroke="#2a2a2a" stroke-width="0.8"/>
<line x1="594.8" y1="972.2" x2="600.6" y2="972.2" stroke="#2a2a2a" stroke-width="1.0"/>
<circle cx="587.6" cy="972.2" r="7.2" stroke="#2a2a2a" stroke-width="1" fill="#fff"/>
<text x="587.6" y="976.2" font-size="11.2" text-anchor="middle" fill="#111">F</text>
<rect x="652.6" y="662.6" width="64.79999999999995" height="105.5" stroke="#2a2a2a" stroke-width="1.0" fill="none"/>
<line x1="660.4" y1="662.6" x2="660.4" y2="768.1" stroke="#2a2a2a" stroke-width="1.0"/>
<line x1="709.6" y1="662.6" x2="709.6" y2="768.1" stroke="#2a2a2a" stroke-width="1.0"/>
<line x1="660.4" y1="670.3000000000001" x2="709.6" y2="670.3000000000001" stroke="#2a2a2a" stroke-width="1.0"/>
<line x1="660.4" y1="760.4" x2="709.6" y2="760.4" stroke="#2a2a2a" stroke-width="1.0"/>
<rect x="717.4" y="662.6" width="65.10000000000002" height="105.5" stroke="#2a2a2a" stroke-width="1.0" fill="none"/>
<line x1="725.1999999999999" y1="662.6" x2="725.1999999999999" y2="768.1" stroke="#2a2a2a" stroke-width="1.0"/>
<line x1="774.7" y1="662.6" x2="774.7" y2="768.1" stroke="#2a2a2a" stroke-width="1.0"/>
<line x1="725.1999999999999" y1="670.3000000000001" x2="774.7" y2="670.3000000000001" stroke="#2a2a2a" stroke-width="1.0"/>
<line x1="725.1999999999999" y1="760.4" x2="774.7" y2="760.4" stroke="#2a2a2a" stroke-width="1.0"/>
<line x1="782.5" y1="662.6" x2="932.2" y2="662.6" stroke="#2a2a2a" stroke-width="1.0"/>
<line x1="782.5" y1="662.6" x2="782.5" y2="715.2" stroke="#2a2a2a" stroke-width="1.0"/>
<line x1="782.5" y1="715.2" x2="932.2" y2="715.2" stroke="#2a2a2a" stroke-width="1.0"/>
<line x1="791.1" y1="662.6" x2="791.1" y2="706" stroke="#2a2a2a" stroke-width="1.0"/>
<line x1="923.6" y1="662.6" x2="923.6" y2="715.2" stroke="#2a2a2a" stroke-width="1.0"/>
<line x1="791.1" y1="670.3" x2="923.6" y2="670.3" stroke="#2a2a2a" stroke-width="1.0"/>
<line x1="791.1" y1="706" x2="923.6" y2="706" stroke="#2a2a2a" stroke-width="1.0"/>
<line x1="782.5" y1="731.4" x2="845.6" y2="731.4" stroke="#2a2a2a" stroke-width="1.0"/>
<line x1="869.9" y1="731.4" x2="932.2" y2="731.4" stroke="#2a2a2a" stroke-width="1.0"/>
<circle cx="857.4" cy="731.4" r="7.2" stroke="#2a2a2a" stroke-width="1" fill="#fff"/>
<text x="857.4" y="735.4" font-size="11.2" text-anchor="middle" fill="#111">C</text>
<rect x="932.8" y="662.6" width="64.80000000000007" height="105.5" stroke="#2a2a2a" stroke-width="1.0" fill="none"/>
<line x1="940.5999999999999" y1="662.6" x2="940.5999999999999" y2="768.1" stroke="#2a2a2a" stroke-width="1.0"/>
<line x1="989.8000000000001" y1="662.6" x2="989.8000000000001" y2="768.1" stroke="#2a2a2a" stroke-width="1.0"/>
<line x1="940.5999999999999" y1="670.3000000000001" x2="989.8000000000001" y2="670.3000000000001" stroke="#2a2a2a" stroke-width="1.0"/>
<line x1="940.5999999999999" y1="760.4" x2="989.8000000000001" y2="760.4" stroke="#2a2a2a" stroke-width="1.0"/>
<rect x="997.6" y="662.6" width="65.10000000000002" height="105.5" stroke="#2a2a2a" stroke-width="1.0" fill="none"/>
<line x1="1005.4" y1="662.6" x2="1005.4" y2="768.1" stroke="#2a2a2a" stroke-width="1.0"/>
<line x1="1054.9" y1="662.6" x2="1054.9" y2="768.1" stroke="#2a2a2a" stroke-width="1.0"/>
<line x1="1005.4" y1="670.3000000000001" x2="1054.9" y2="670.3000000000001" stroke="#2a2a2a" stroke-width="1.0"/>
<line x1="1005.4" y1="760.4" x2="1054.9" y2="760.4" stroke="#2a2a2a" stroke-width="1.0"/>
<rect x="1062.7" y="662.6" width="63.3" height="289.4" stroke="#2a2a2a" stroke-width="1.0" fill="none"/>
<rect x="1070.9" y="670.3" width="47.1" height="273.5" stroke="#2a2a2a" stroke-width="1.0" fill="none"/>
<line x1="920.4" y1="715.2" x2="920.4" y2="765.8" stroke="#2a2a2a" stroke-width="1.0"/>
<line x1="920.4" y1="790.8" x2="920.4" y2="841.4" stroke="#2a2a2a" stroke-width="1.0"/>
<circle cx="920.4" cy="778.3" r="7.2" stroke="#2a2a2a" stroke-width="1" fill="#fff"/>
<text x="920.4" y="782.3" font-size="11.2" text-anchor="middle" fill="#111">B</text>
<line x1="976.5" y1="768.1" x2="976.5" y2="792.2" stroke="#2a2a2a" stroke-width="1.0"/>
<line x1="976.5" y1="817.2" x2="976.5" y2="842" stroke="#2a2a2a" stroke-width="1.0"/>
<circle cx="976.5" cy="804.7" r="7.2" stroke="#2a2a2a" stroke-width="1" fill="#fff"/>
<text x="976.5" y="808.7" font-size="11.2" text-anchor="middle" fill="#111">2</text>
<line x1="932.8" y1="824.2" x2="986.5" y2="824.2" stroke="#2a2a2a" stroke-width="1.0"/>
<line x1="1008.7" y1="824.2" x2="1062.7" y2="824.2" stroke="#2a2a2a" stroke-width="1.0"/>
<line x1="932.8" y1="818.5" x2="932.8" y2="842" stroke="#2a2a2a" stroke-width="1.0"/>
<circle cx="997.6" cy="824.2" r="7.2" stroke="#2a2a2a" stroke-width="1" fill="#fff"/>
<text x="997.6" y="828.2" font-size="11.2" text-anchor="middle" fill="#111">4</text>
<rect x="651.7" y="842" width="130.19999999999993" height="4.0" stroke="#2a2a2a" stroke-width="1.0" fill="none"/>
<rect x="651.7" y="846" width="130.19999999999993" height="27" stroke="#2a2a2a" stroke-width="1.0" fill="none"/>
<rect x="651.7" y="873" width="130.19999999999993" height="26.5" stroke="#2a2a2a" stroke-width="1.0" fill="none"/>
<line x1="703" y1="850.6" x2="731.2" y2="850.6" stroke="#555" stroke-width="1.6"/>
<line x1="703" y1="877.2" x2="731.2" y2="877.2" stroke="#555" stroke-width="1.6"/>
<rect x="651.7" y="899.5" width="130.19999999999993" height="52.5" stroke="#2a2a2a" stroke-width="1.0" fill="none"/>
<line x1="660.0" y1="899.5" x2="660.0" y2="952" stroke="#2a2a2a" stroke-width="1.0"/>
<line x1="773.6" y1="899.5" x2="773.6" y2="952" stroke="#2a2a2a" stroke-width="1.0"/>
<line x1="660.0" y1="908" x2="773.6" y2="908" stroke="#2a2a2a" stroke-width="1.0"/>
<line x1="660.0" y1="943.8" x2="773.6" y2="943.8" stroke="#2a2a2a" stroke-width="1.0"/>
<rect x="653.6" y="952" width="126.8" height="13.2" stroke="#2a2a2a" stroke-width="1.0" fill="none"/>
<rect x="932.8" y="842" width="129.9000000000001" height="4.0" stroke="#2a2a2a" stroke-width="1.0" fill="none"/>
<rect x="932.8" y="846" width="129.9000000000001" height="27" stroke="#2a2a2a" stroke-width="1.0" fill="none"/>
<rect x="932.8" y="873" width="129.9000000000001" height="26.5" stroke="#2a2a2a" stroke-width="1.0" fill="none"/>
<line x1="984.1" y1="850.6" x2="1011.3" y2="850.6" stroke="#555" stroke-width="1.6"/>
<line x1="984.1" y1="877.2" x2="1011.3" y2="877.2" stroke="#555" stroke-width="1.6"/>
<rect x="932.8" y="899.5" width="129.9000000000001" height="52.5" stroke="#2a2a2a" stroke-width="1.0" fill="none"/>
<line x1="941.0999999999999" y1="899.5" x2="941.0999999999999" y2="952" stroke="#2a2a2a" stroke-width="1.0"/>
<line x1="1054.4" y1="899.5" x2="1054.4" y2="952" stroke="#2a2a2a" stroke-width="1.0"/>
<line x1="941.0999999999999" y1="908" x2="1054.4" y2="908" stroke="#2a2a2a" stroke-width="1.0"/>
<line x1="941.0999999999999" y1="943.8" x2="1054.4" y2="943.8" stroke="#2a2a2a" stroke-width="1.0"/>
<rect x="934.6" y="952" width="190.1" height="13.2" stroke="#2a2a2a" stroke-width="1.0" fill="none"/>
<line x1="782.5" y1="832.3" x2="932.2" y2="832.3" stroke="#2a2a2a" stroke-width="1.0"/>
<line x1="782.5" y1="832.3" x2="782.5" y2="965.2" stroke="#2a2a2a" stroke-width="1.0"/>
<line x1="932.2" y1="832.3" x2="932.2" y2="965.2" stroke="#2a2a2a" stroke-width="1.0"/>
<line x1="782.5" y1="965.2" x2="932.2" y2="965.2" stroke="#2a2a2a" stroke-width="1.0"/>
<line x1="782.5" y1="855.6" x2="845.6" y2="855.6" stroke="#2a2a2a" stroke-width="1.0"/>
<line x1="869.9" y1="855.6" x2="932.2" y2="855.6" stroke="#2a2a2a" stroke-width="1.0"/>
<circle cx="857.4" cy="855.6" r="7.2" stroke="#2a2a2a" stroke-width="1" fill="#fff"/>
<text x="857.4" y="859.6" font-size="11.2" text-anchor="middle" fill="#111">A</text>
<defs><pattern id="hatch" width="3.4" height="3.4" patternUnits="userSpaceOnUse" patternTransform="rotate(45)"><rect width="3.4" height="3.4" fill="#fff"/><line x1="0" y1="0" x2="0" y2="3.4" stroke="#444" stroke-width="1.1"/></pattern></defs>
<rect x="782.4" y="946.8" width="59.200000000000045" height="18.4" fill="url(#hatch)" stroke="#2a2a2a" stroke-width="1"/>
<text x="812.0" y="959.7" font-size="12.6" text-anchor="middle" fill="#000">E.G</text>
<rect x="873.4" y="946.8" width="59.0" height="18.4" fill="url(#hatch)" stroke="#2a2a2a" stroke-width="1"/>
<text x="902.9" y="959.7" font-size="12.6" text-anchor="middle" fill="#000">E.G</text>
<line x1="782.4" y1="934.4" x2="800.2" y2="934.4" stroke="#2a2a2a" stroke-width="1.0"/>
<line x1="823" y1="934.4" x2="841.6" y2="934.4" stroke="#2a2a2a" stroke-width="1.0"/>
<line x1="841.6" y1="934.4" x2="841.6" y2="946.8" stroke="#2a2a2a" stroke-width="1.0"/>
<circle cx="811.6" cy="934.4" r="7.2" stroke="#2a2a2a" stroke-width="1" fill="#fff"/>
<text x="811.6" y="938.4" font-size="11.2" text-anchor="middle" fill="#111">D</text>
<line x1="873.4" y1="934.4" x2="891.4" y2="934.4" stroke="#2a2a2a" stroke-width="1.0"/>
<line x1="914.2" y1="934.4" x2="932.4" y2="934.4" stroke="#2a2a2a" stroke-width="1.0"/>
<line x1="873.4" y1="934.4" x2="873.4" y2="946.8" stroke="#2a2a2a" stroke-width="1.0"/>
<circle cx="902.4" cy="934.4" r="7.2" stroke="#2a2a2a" stroke-width="1" fill="#fff"/>
<text x="902.4" y="938.4" font-size="11.2" text-anchor="middle" fill="#111">D</text>
<line x1="841.6" y1="946.8" x2="854.2" y2="946.8" stroke="#2a2a2a" stroke-width="1.0"/>
<line x1="854.2" y1="946.8" x2="854.2" y2="948.5" stroke="#2a2a2a" stroke-width="1.0"/>
<circle cx="853.2" cy="955.8" r="7.2" stroke="#2a2a2a" stroke-width="1" fill="#fff"/>
<text x="853.2" y="959.8" font-size="11.2" text-anchor="middle" fill="#111">E</text>
<text x="650.9" y="988.3" font-size="11.8" textLength="486.2" lengthAdjust="spacingAndGlyphs" fill="#111">THE SHADED AREA REPRESENTS THE INSTALLATION AREA FOR THE CONNECTIONS;</text>
<text x="650.9" y="1010.9" font-size="11.8" textLength="155.7" lengthAdjust="spacingAndGlyphs" fill="#111">E ; ELECTRIC CONNECTION</text>
<text x="650.9" y="1028.6" font-size="11.8" textLength="42.1" lengthAdjust="spacingAndGlyphs" fill="#111">G ; GAS</text>
<line x1="1147.2" y1="662.6" x2="1381.4" y2="662.6" stroke="#333" stroke-width="1.3"/>
<line x1="1147.2" y1="684" x2="1381.4" y2="684" stroke="#333" stroke-width="1.3"/>
<line x1="1147.2" y1="716.3" x2="1381.4" y2="716.3" stroke="#333" stroke-width="1.3"/>
<line x1="1147.2" y1="759.4" x2="1381.4" y2="759.4" stroke="#333" stroke-width="1.3"/>
<line x1="1147.2" y1="792" x2="1381.4" y2="792" stroke="#333" stroke-width="1.3"/>
<line x1="1147.2" y1="824.3" x2="1381.4" y2="824.3" stroke="#333" stroke-width="1.3"/>
<line x1="1147.2" y1="857.1" x2="1381.4" y2="857.1" stroke="#333" stroke-width="1.3"/>
<line x1="1147.2" y1="922.2" x2="1381.4" y2="922.2" stroke="#333" stroke-width="1.3"/>
<line x1="1147.2" y1="943.5" x2="1381.4" y2="943.5" stroke="#333" stroke-width="1.3"/>
<line x1="1147.2" y1="976.5" x2="1381.4" y2="976.5" stroke="#333" stroke-width="1.3"/>
<line x1="1147.2" y1="1009.6" x2="1381.4" y2="1009.6" stroke="#333" stroke-width="1.3"/>
<line x1="1147.2" y1="1042.6" x2="1381.4" y2="1042.6" stroke="#333" stroke-width="1.3"/>
<line x1="1147.2" y1="662.6" x2="1147.2" y2="1042.6" stroke="#333" stroke-width="1.3"/>
<line x1="1172.6" y1="662.6" x2="1172.6" y2="1042.6" stroke="#333" stroke-width="1.3"/>
<line x1="1253.3" y1="662.6" x2="1253.3" y2="1042.6" stroke="#333" stroke-width="1.3"/>
<line x1="1381.4" y1="662.6" x2="1381.4" y2="1042.6" stroke="#333" stroke-width="1.3"/>
<text x="1180.8" y="676.8" font-size="8.8" font-weight="bold" textLength="57" lengthAdjust="spacingAndGlyphs">DIMENSIONS</text>
<text x="1261" y="676.8" font-size="8.8" font-weight="bold" textLength="56.5" lengthAdjust="spacingAndGlyphs">DESCRIPTION</text>
<text x="1155.2" y="698.6" font-size="9.6" fill="#222" letter-spacing="0.25">1</text>
<text x="1180.8" y="698.6" font-size="9.6" fill="#222" letter-spacing="0.25">13" (330 mm)</text>
<text x="1261" y="698.6" font-size="9.6" fill="#222" letter-spacing="0.25">Maximum depth of top</text>
<text x="1261" y="709.5" font-size="9.6" fill="#222" letter-spacing="0.25">cabinet</text>
<text x="1155.2" y="730.9" font-size="9.6" fill="#222" letter-spacing="0.25">2</text>
<text x="1180.8" y="730.9" font-size="9.6" fill="#222" letter-spacing="0.25">18" (547 mm)</text>
<text x="1261" y="730.9" font-size="9.6" fill="#222" letter-spacing="0.25">Minimum distance to</text>
<text x="1261" y="741.8" font-size="9.6" fill="#222" letter-spacing="0.25">bottom edge of top</text>
<text x="1261" y="752.6999999999999" font-size="9.6" fill="#222" letter-spacing="0.25">cabinet</text>
<text x="1155.2" y="774.0" font-size="9.6" fill="#222" letter-spacing="0.25">3</text>
<text x="1180.8" y="774.0" font-size="9.6" fill="#222" letter-spacing="0.25">35 ½"-37"</text>
<text x="1180.8" y="784.9" font-size="9.6" fill="#222" letter-spacing="0.25">(901-940 mm)</text>
<text x="1261" y="774.0" font-size="9.6" fill="#222" letter-spacing="0.25">Distance from the floor to</text>
<text x="1261" y="784.9" font-size="9.6" fill="#222" letter-spacing="0.25">cooktop surface</text>
<text x="1155.2" y="806.6" font-size="9.6" fill="#222" letter-spacing="0.25">4</text>
<text x="1180.8" y="806.6" font-size="9.6" fill="#222" letter-spacing="0.25">12"</text>
<text x="1261" y="806.6" font-size="9.6" fill="#222" letter-spacing="0.25">Minimum distance from</text>
<text x="1261" y="817.5" font-size="9.6" fill="#222" letter-spacing="0.25">cooktop surface</text>
<text x="1155.2" y="838.9" font-size="9.6" fill="#222" letter-spacing="0.25">A</text>
<text x="1180.8" y="838.9" font-size="9.6" fill="#222" letter-spacing="0.25">29 <tspan font-size="5.5" dy="-3">15/16"</tspan><tspan dy="3"> (76 cm)</tspan></text>
<text x="1261" y="838.9" font-size="9.6" fill="#222" letter-spacing="0.25">Width of cabinet opening</text>
<text x="1155.2" y="871.7" font-size="9.6" fill="#222" letter-spacing="0.25">B</text>
<text x="1180.8" y="871.7" font-size="9.6" fill="#222" letter-spacing="0.25">30"(762mm)</text>
<text x="1261" y="871.7" font-size="9.6" fill="#222" letter-spacing="0.25">Minimum distance</text>
<text x="1261" y="882.6" font-size="9.6" fill="#222" letter-spacing="0.25">between the top of the</text>
<text x="1261" y="893.5" font-size="9.6" fill="#222" letter-spacing="0.25">cooking area and bot-</text>
<text x="1261" y="904.4000000000001" font-size="9.6" fill="#222" letter-spacing="0.25">tom of an unprotected</text>
<text x="1261" y="915.3000000000001" font-size="9.6" fill="#222" letter-spacing="0.25">combustible surface</text>
<text x="1155.2" y="936.8000000000001" font-size="9.6" fill="#222" letter-spacing="0.25">C</text>
<text x="1180.8" y="936.8000000000001" font-size="9.6" fill="#222" letter-spacing="0.25">29 <tspan font-size="5.5" dy="-3">15/16"</tspan><tspan dy="3"> (76 cm)</tspan></text>
<text x="1261" y="936.8000000000001" font-size="9.6" fill="#222" letter-spacing="0.25">Width of the hood area</text>
<text x="1155.2" y="958.1" font-size="9.6" fill="#222" letter-spacing="0.25">D</text>
<text x="1180.8" y="958.1" font-size="9.6" fill="#222" letter-spacing="0.25">Approx. 10<tspan font-size="5.5" dy="-3">13/16"</tspan></text>
<text x="1180.8" y="969.0" font-size="9.6" fill="#222" letter-spacing="0.25"><tspan font-size="5.5" dy="-3">(</tspan><tspan dy="3">274mm)</tspan></text>
<text x="1261" y="958.1" font-size="9.6" fill="#222" letter-spacing="0.25">Maximum connection</text>
<text x="1261" y="969.0" font-size="9.6" fill="#222" letter-spacing="0.25">with right and left</text>
<text x="1155.2" y="991.1" font-size="9.6" fill="#222" letter-spacing="0.25">E</text>
<text x="1180.8" y="991.1" font-size="9.6" fill="#222" letter-spacing="0.25">Approx. 4 <tspan font-size="5.5" dy="-3">½"</tspan></text>
<text x="1180.8" y="1002.0" font-size="9.6" fill="#222" letter-spacing="0.25">(115mm)</text>
<text x="1261" y="991.1" font-size="9.6" fill="#222" letter-spacing="0.25">Maximum connection</text>
<text x="1261" y="1002.0" font-size="9.6" fill="#222" letter-spacing="0.25">height</text>
<text x="1155.2" y="1024.2" font-size="9.6" fill="#222" letter-spacing="0.25">F</text>
<text x="1180.8" y="1024.2" font-size="9.6" fill="#222" letter-spacing="0.25">Approx. 2<tspan font-size="5.5" dy="-3">13/16"</tspan></text>
<text x="1180.8" y="1035.1000000000001" font-size="9.6" fill="#222" letter-spacing="0.25">(72mm)</text>
<text x="1261" y="1024.2" font-size="9.6" fill="#222" letter-spacing="0.25">Maximum connection</text>
<text x="1261" y="1035.1000000000001" font-size="9.6" fill="#222" letter-spacing="0.25">depth</text>
</g>
</svg>
</body></html>
